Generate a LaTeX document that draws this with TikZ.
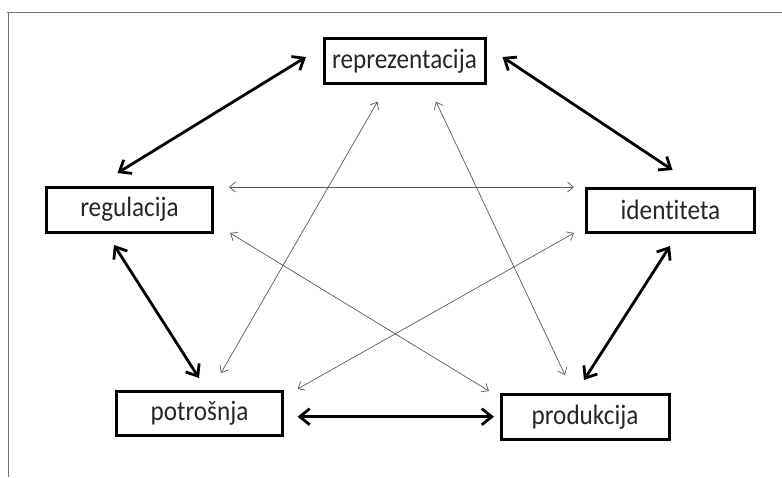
\documentclass[tikz,border=0pt]{standalone}
\usepackage{fontspec}
\setmainfont{Carlito}[Ligatures=NoCommon,FakeStretch=0.9]
\usetikzlibrary{arrows.meta}
\begin{document}
\begin{tikzpicture}[x=1pt,y=-1pt,
  box/.style={draw=black,line width=3pt,inner sep=0pt,font=\fontsize{28}{32}\selectfont,text=black!85},
  bold/.style={line width=2.8pt,{Straight Barb[length=10pt,width=16pt,line width=2.8pt]}-{Straight Barb[length=10pt,width=16pt,line width=2.8pt]}},
  fine/.style={line width=0.7pt,draw=black!65,{Straight Barb[length=6pt,width=10pt]}-{Straight Barb[length=6pt,width=10pt]}},
  frame/.style={draw=black!55,line width=1pt}]
\useasboundingbox (0,0) rectangle (782,477);
\draw[frame] (7,12) -- (782,12);
\draw[frame] (8,12) -- (8,477);
\node[box,minimum width=161pt,minimum height=45pt] (repr) at (404.5,61) {reprezentacija};
\node[box,minimum width=166pt,minimum height=45pt] (regul) at (129.5,209.5) {regulacija};
\node[box,minimum width=168pt,minimum height=44pt] (ident) at (670.5,210) {identiteta};
\node[box,minimum width=166pt,minimum height=44pt] (potr) at (199.5,413.3) {potrošnja};
\node[box,minimum width=168pt,minimum height=45pt] (prod) at (585,416.7) {produkcija};
% thick arrows
\draw[bold] ([shift={(-98.5,-4)}]repr.center) -- ([shift={(-12,-36.5)}]regul.center);
\draw[bold] ([shift={(98,-4)}]repr.center) -- ([shift={(2,-40)}]ident.center);
\draw[bold] ([shift={(-15.5,35.5)}]regul.center) -- ([shift={(-0.5,-35.3)}]potr.center);
\draw[bold] ([shift={(-0.5,36)}]ident.center) -- ([shift={(-1,-36.7)}]prod.center);
\draw[bold] ([shift={(98,3.4)}]potr.center) -- ([shift={(-91,0)}]prod.center);
% thin arrows
\draw[fine] ([shift={(99.5,-22.5)}]regul.center) -- ([shift={(-96.5,-23)}]ident.center);
\draw[fine] ([shift={(100.5,23.5)}]regul.center) -- ([shift={(-96,-25.7)}]prod.center);
\draw[fine] ([shift={(-27,40.7)}]repr.center) -- ([shift={(21.5,-40.3)}]potr.center);
\draw[fine] ([shift={(31.5,40.7)}]repr.center) -- ([shift={(-20,-41.7)}]prod.center);
\draw[fine] ([shift={(-96.5,23)}]ident.center) -- ([shift={(98,-24.3)}]potr.center);
\end{tikzpicture}
\end{document}
